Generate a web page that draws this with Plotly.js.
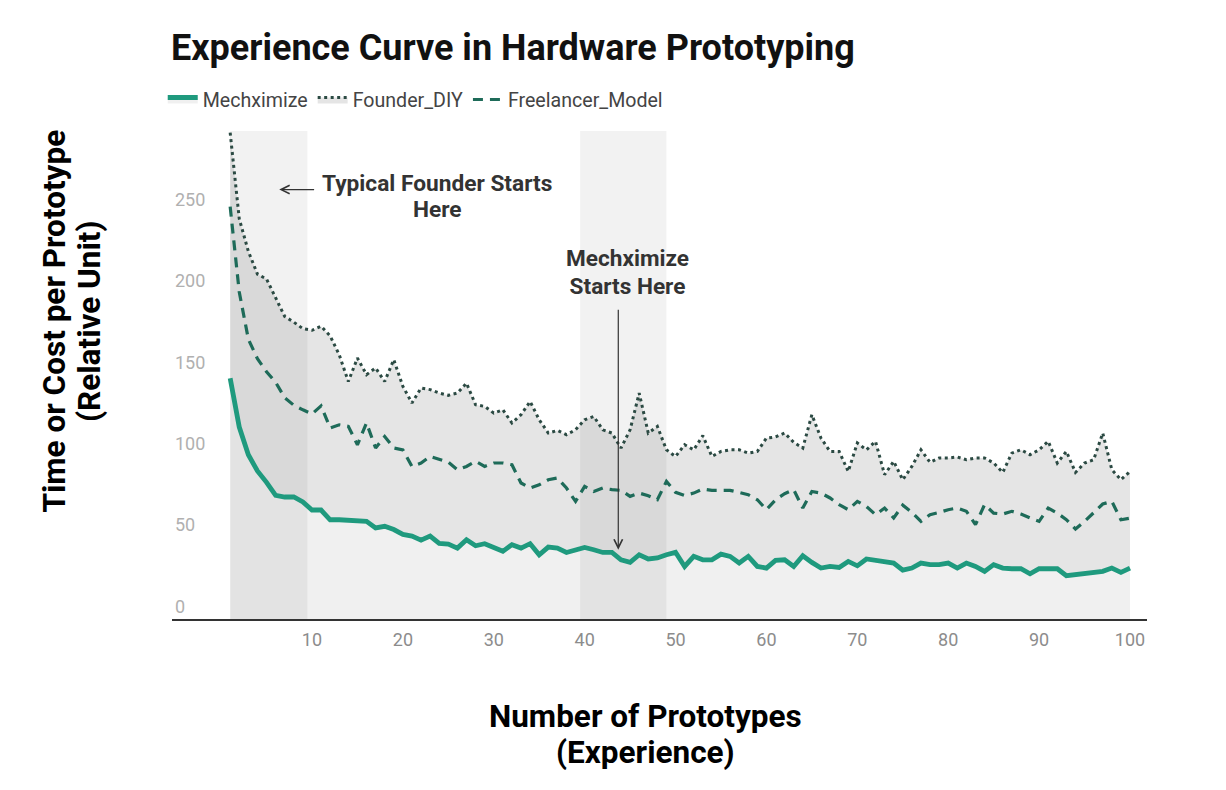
<!DOCTYPE html>
<html>
<head>
<meta charset="utf-8">
<script src="https://cdn.plot.ly/plotly-3.0.1.min.js"></script>
<style>
  html, body { margin: 0; padding: 0; background: #ffffff; }
  #chart { width: 1226px; height: 790px; }
</style>
</head>
<body>
<div id="chart"></div>
<script>
// ---- Data ----
const prototypes = Array.from({length: 100}, (_, i) => i + 1);

const mechximize = [
  148, 118, 101, 91, 84, 76, 75, 75, 72, 67,
  67, 61, 61, 60.5, 60, 60, 56, 57, 55, 52,
  51, 48.5, 51, 46.5, 46, 43.6, 48.7, 45, 46.3, 44,
  41.6, 45.7, 43.6, 46.3, 39.5, 44.2, 43.6, 40.9, 42.6, 44,
  42.6, 40.9, 40.9, 36.4, 34.8, 39.5, 36.9, 37.5, 39.5, 41,
  32.3, 38.5, 36.4, 36.4, 39.9, 38.5, 34.4, 38.5, 32.3, 31.3,
  36, 36.4, 32.3, 38.9, 34.8, 31.3, 32.3, 31.7, 35.4, 32.7,
  36.9, 36, 35.4, 34.4, 30, 31.3, 34.4, 33.4, 33.4, 34.4,
  31.3, 34.4, 32.3, 29.3, 33.4, 31.3, 30.9, 30.9, 27.8, 30.9,
  30.9, 30.9, 26.6, 27.2, 27.6, 28.3, 29.3, 31.3, 28.7, 31.3
];

const founderDIY = [
  299, 246, 226, 212, 209, 197, 186, 182.5, 178.5, 177.5,
  180, 174, 162.4, 146, 160.4, 150.2, 154.3, 146, 159.4, 143,
  132.8, 142, 141, 138.9, 137.5, 138.9, 145, 131.7, 130.7, 126.6,
  128.6, 120.5, 125.6, 133.7, 122.5, 114.3, 115.9, 113.3, 116.3, 122.5,
  124.5, 116.3, 114.3, 105.1, 116.3, 138.9, 114.3, 118.4, 104, 99.9,
  107.1, 104, 112.7, 99.9, 103, 104, 104, 102, 103, 111.2,
  111.9, 114.3, 108.6, 105.1, 125.6, 111.2, 103, 103, 90.7, 108.2,
  104, 109.2, 88.7, 96.9, 85.6, 93.8, 104, 96.3, 99, 99,
  99.6, 97.9, 99, 99, 95.9, 90.1, 102, 104, 101, 104,
  109.2, 95.9, 103, 90.1, 95.9, 97.9, 114.3, 91.8, 85.6, 90.7
];

const freelancerModel = [
  253.5, 201, 172, 160, 152, 145.5, 136, 131.4, 128.6, 126,
  131, 117.4, 119.4, 118.4, 107.1, 120.5, 105.1, 112.2, 105.1, 104,
  93.8, 95.9, 99.9, 97.9, 96.4, 91.8, 93.8, 96.9, 93.8, 95.9,
  95.9, 94.8, 83.6, 80.5, 82.5, 85.6, 86.7, 80.5, 72.3, 81.5,
  78.4, 80.5, 79.5, 79.1, 75.4, 77.4, 75.8, 73.3, 84.6, 77.9,
  76, 77.4, 79.9, 79.1, 79.1, 79.1, 77.8, 76.4, 73.3, 67.2,
  73.3, 77, 79.5, 68.2, 78.4, 77.4, 74.4, 70.3, 67.2, 72.3,
  69.2, 64.1, 68.2, 62.1, 70, 65.5, 60, 64.1, 65.5, 67.2,
  68.2, 66.2, 58, 70.3, 65.1, 64.5, 66.2, 64.5, 62.1, 60,
  68.2, 65.1, 61.1, 55.3, 60, 65.5, 70.7, 72.3, 61, 62
];

const xTickVals = [10, 20, 30, 40, 50, 60, 70, 80, 90, 100];
const yTickVals = [0, 50, 100, 150, 200, 250];

// shaded phases [start, end] on the x scale
const founderPhase = [1, 9.5];
const mechPhase = [39.5, 49];

// ---- Traces ----
const traces = [
  {
    x: prototypes, y: mechximize, name: 'Mechximize',
    type: 'scatter', mode: 'lines',
    line: {color: '#1f9a7e', width: 4.8},
    fill: 'tozeroy', fillcolor: 'rgba(0,0,0,0.058)'
  },
  {
    x: prototypes, y: founderDIY, name: 'Founder_DIY',
    type: 'scatter', mode: 'lines',
    line: {color: '#2b4a43', width: 3, dash: '3px,3.5px'},
    fill: 'tonexty', fillcolor: 'rgba(0,0,0,0.1)'
  },
  {
    x: prototypes, y: freelancerModel, name: 'Freelancer_Model',
    type: 'scatter', mode: 'lines',
    line: {color: '#1e6b59', width: 3.2, dash: '10px,7px'}
  }
];

const layout = {
  width: 1226, height: 790,
  margin: {l: 172, r: 79, t: 131, b: 171},
  paper_bgcolor: '#ffffff', plot_bgcolor: '#ffffff',
  font: {family: 'Roboto, "Open Sans", sans-serif', color: '#444'},
  title: {
    text: 'Experience Curve in Hardware Prototyping',
    font: {size: 36, color: '#111111', weight: 700, family: 'Roboto, sans-serif'},
    xref: 'container', x: 0.1395, xanchor: 'left',
    yref: 'container', y: 0.94, yanchor: 'middle'
  },
  showlegend: true,
  legend: {
    orientation: 'h', x: -0.0095, xanchor: 'left', y: 1.064, yanchor: 'middle',
    font: {size: 19.6, color: '#444444'}, bgcolor: 'rgba(0,0,0,0)', traceorder: 'normal'
  },
  xaxis: {
    range: [-5.4, 101.87], tickvals: xTickVals, ticks: '',
    showgrid: false, zeroline: false,
    showline: true, linecolor: '#333333', linewidth: 2,
    tickfont: {size: 18, color: '#8c8c8c'},
    ticklabelstandoff: 3
  },
  yaxis: {
    range: [0, 300], tickvals: yTickVals, ticks: '',
    ticklabelposition: 'inside top',
    showgrid: false, zeroline: false, showline: false,
    tickfont: {size: 18, color: '#b0b0b0'}
  },
  shapes: [
    {type: 'rect', xref: 'x', yref: 'paper', x0: founderPhase[0], x1: founderPhase[1], y0: 0, y1: 1,
     fillcolor: 'rgba(0,0,0,0.05)', line: {width: 0}, layer: 'below'},
    {type: 'rect', xref: 'x', yref: 'paper', x0: mechPhase[0], x1: mechPhase[1], y0: 0, y1: 1,
     fillcolor: 'rgba(0,0,0,0.05)', line: {width: 0}, layer: 'below'}
  ],
  annotations: [
    // axis titles
    {
      xref: 'paper', yref: 'paper', x: 0.4856, y: -0.2357, xanchor: 'center', yanchor: 'middle',
      showarrow: false, align: 'center',
      text: '<span style="font-size:31.5px">Number of Prototypes</span><br><span style="font-size:31.5px">(Experience)</span>',
      font: {size: 27.5, color: '#000000', weight: 700}
    },
    {
      xref: 'paper', yref: 'paper', x: -0.102, y: 0.6107, xanchor: 'center', yanchor: 'middle',
      showarrow: false, align: 'center', textangle: -90,
      text: '<span style="font-size:31.5px">Time or Cost per Prototype</span><br><span style="font-size:31.5px">(Relative Unit)</span>',
      font: {size: 27.5, color: '#000000', weight: 700}
    },
    // callouts
    {
      xref: 'x', yref: 'y', x: 23.8, y: 260, showarrow: false, align: 'center',
      text: '<span style="font-size:22.7px">Typical Founder Starts</span><br><span style="font-size:22.7px">Here</span>',
      font: {size: 20, color: '#333333', weight: 700}
    },
    {
      xref: 'x', yref: 'y', x: 6.4, y: 264, axref: 'x', ayref: 'y', ax: 10.4, ay: 264,
      text: '', showarrow: true, arrowhead: 5, arrowsize: 1.4, arrowwidth: 1.2,
      arrowcolor: '#333333', standoff: 0, startstandoff: 0
    },
    {
      xref: 'x', yref: 'y', x: 44.7, y: 212.8, showarrow: false, align: 'center',
      text: '<span style="font-size:22.6px">Mechximize</span><br><span style="font-size:22.6px">Starts Here</span>',
      font: {size: 21.5, color: '#333333', weight: 700}
    },
    {
      xref: 'x', yref: 'y', x: 43.7, y: 42.6, axref: 'x', ayref: 'y', ax: 43.7, ay: 191,
      text: '', showarrow: true, arrowhead: 5, arrowsize: 1.4, arrowwidth: 1.2,
      arrowcolor: '#333333', standoff: 0, startstandoff: 0
    }
  ]
};

Plotly.newPlot('chart', traces, layout, {displayModeBar: false, staticPlot: true});
</script>
</body>
</html>
